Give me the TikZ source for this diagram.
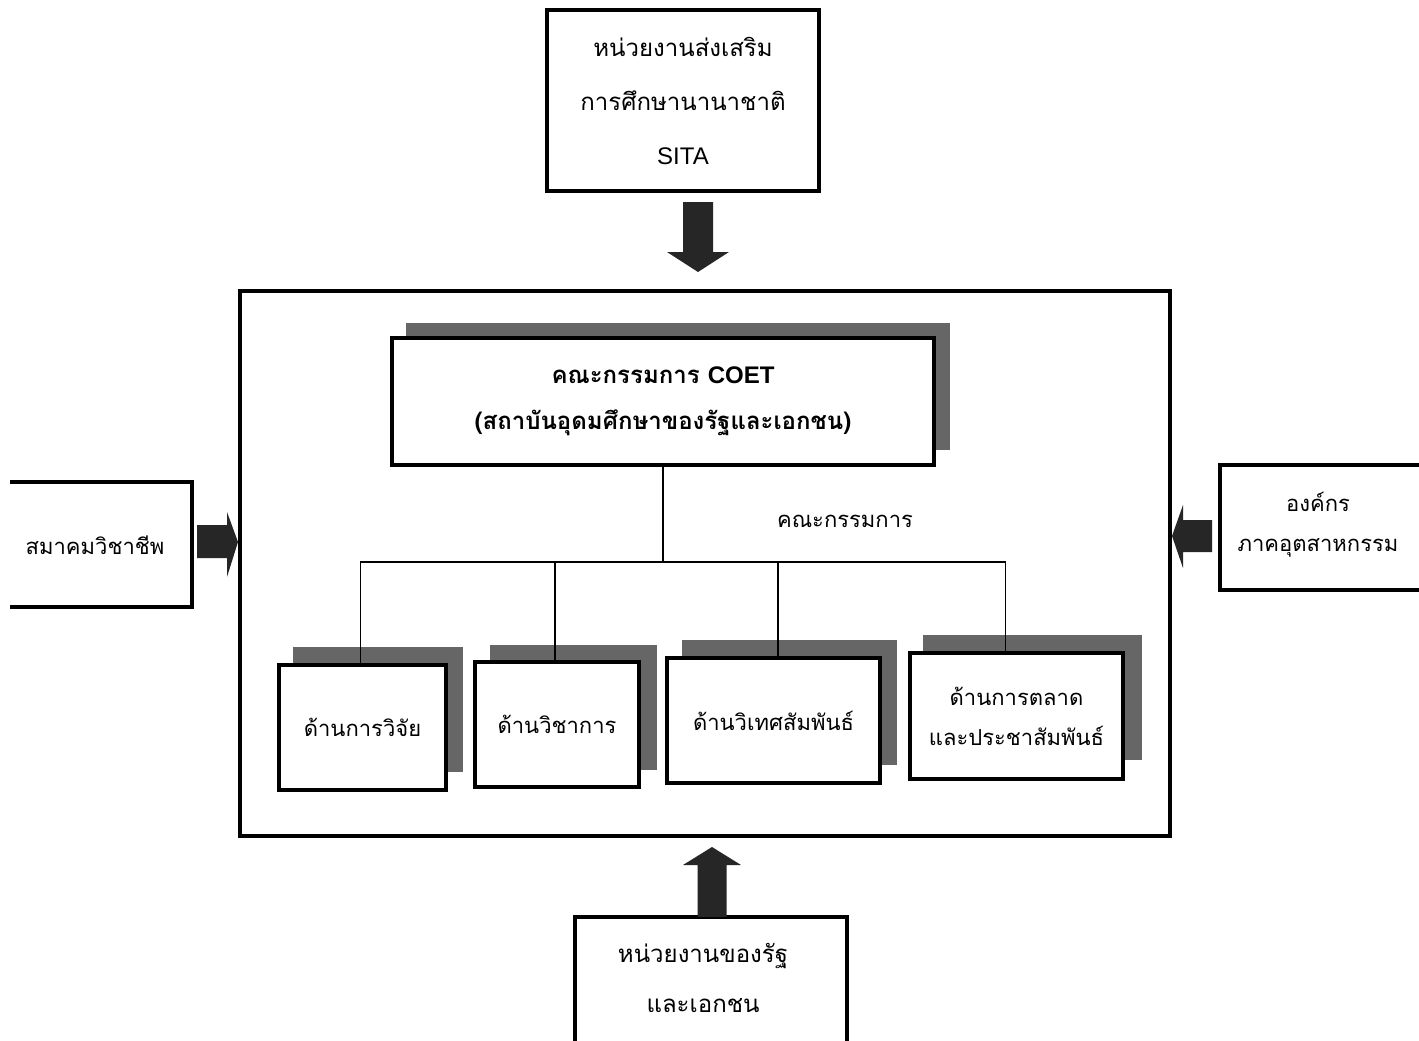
\documentclass[tikz,border=0pt]{standalone}
\usepackage{fontspec}
\setmainfont{Liberation Sans}
\newfontfamily\thaifont[Script=Thai]{Loma}
\usetikzlibrary{calc}
\tikzset{
  box/.style={draw, line width=3.4pt, fill=white, align=center, inner sep=0pt},
  shadowfill/.style={fill=black!60, draw=none},
  link/.style={line width=1.8pt},
  openbox/.style={line width=3.4pt},
  blockarrow/.style={fill=black!85, draw=none},
  txt/.style={align=center, inner sep=0pt},
  big/.style={font=\thaifont\fontsize{24}{54}\selectfont},
  mid/.style={font=\thaifont\fontsize{22}{40}\selectfont},
  coetf/.style={font=\thaifont\bfseries\fontsize{24}{46}\selectfont},
}
\begin{document}
\begin{tikzpicture}[x=1pt,y=-1pt]
\useasboundingbox (0,0) rectangle (1419,1041);
\fill[white] (0,0) rectangle (1419,1041);

% top box
\node[box, big, minimum width=272pt, minimum height=181pt] (sita) at (683,100.5)
  {หน่วยงานส่งเสริม\\การศึกษานานาชาติ\\{\rmfamily SITA}};

% outer frame
\node[box, minimum width=930pt, minimum height=545pt] (frame) at (705,563.5) {};

% COET shadow and box
\fill[shadowfill] (406,323) rectangle (950,450);
\node[box, coetf, minimum width=542pt, minimum height=127pt] (coet) at (663,401.5)
  {คณะกรรมการ {\rmfamily COET}\\(สถาบันอุดมศึกษาของรัฐและเอกชน)};

% sub shadows
\fill[shadowfill] (293,647) rectangle (463,772);
\fill[shadowfill] (490,645) rectangle (657,770);
\fill[shadowfill] (682,640) rectangle (897,765);
\fill[shadowfill] (923,635) rectangle (1142,760);

% sub boxes
\node[box, mid, minimum width=167pt, minimum height=125pt] (b1) at (362.5,727.5) {ด้านการวิจัย};
\node[box, mid, minimum width=164pt, minimum height=125pt] (b2) at (557,724.5) {ด้านวิชาการ};
\node[box, mid, minimum width=213pt, minimum height=125pt] (b3) at (773.5,720.5) {ด้านวิเทศสัมพันธ์};
\node[box, mid, minimum width=213pt, minimum height=126pt] (b4) at (1016.5,716) {ด้านการตลาด\\และประชาสัมพันธ์};

% committee tree
\coordinate (bar) at (663,562);
\node[txt, mid] (lbl) at (845,521) {คณะกรรมการ};
\draw[link] (coet.south) -- (bar);
\draw[link] ($(b1.north)+(-2,0)$) |- ($(b4.north |- bar)+(-11,0)$) -- ($(b4.north)+(-11,0)$);
\draw[link] ($(b2.north)+(-2,0)$) -- ($(b2.north |- bar)+(-2,0)$);
\draw[link] ($(b3.north)+(4.5,0)$) -- ($(b3.north |- bar)+(4.5,0)$);

% left box (open at page edge)
\node[txt, mid] (smk) at (95,545) {สมาคมวิชาชีพ};
\draw[openbox] (10,482) -- (192,482) -- (192,607) -- (10,607);

% right box
\node[txt, mid] (ind) at (1318,525) {องค์กร\\ภาคอุตสาหกรรม};
\draw[openbox] (1419,465) -- (1220,465) -- (1220,590) -- (1419,590);

% bottom box
\node[txt, big, font=\thaifont\fontsize{24}{50}\selectfont] (gov) at (703,978) {หน่วยงานของรัฐ\\และเอกชน};
\draw[openbox] (575,1041) -- (575,917) -- (847,917) -- (847,1041);

% block arrows
\coordinate (dA) at (698,202);
\fill[blockarrow] ($(dA)+(-15,0)$) -- ($(dA)+(15,0)$) -- ($(dA)+(15,50)$) -- ($(dA)+(31,50)$)
  -- ($(dA)+(0,70)$) -- ($(dA)+(-31,50)$) -- ($(dA)+(-15,50)$) -- cycle;
\coordinate (uA) at (712,917);
\fill[blockarrow] ($(uA)+(-14.5,0)$) -- ($(uA)+(14.5,0)$) -- ($(uA)+(14.5,-52)$) -- ($(uA)+(29,-52)$)
  -- ($(uA)+(0,-70)$) -- ($(uA)+(-29,-52)$) -- ($(uA)+(-14.5,-52)$) -- cycle;
\coordinate (rA) at (197,542);
\fill[blockarrow] ($(rA)+(0,-17)$) -- ($(rA)+(30,-17)$) -- ($(rA)+(30,-30)$) -- ($(rA)+(41,0)$)
  -- ($(rA)+(30,35)$) -- ($(rA)+(30,16)$) -- ($(rA)+(0,16)$) -- cycle;
\coordinate (lA) at (1212,536);
\fill[blockarrow] ($(lA)+(0,-16)$) -- ($(lA)+(-29,-16)$) -- ($(lA)+(-29,-31)$) -- ($(lA)+(-40,0)$)
  -- ($(lA)+(-29,32)$) -- ($(lA)+(-29,16)$) -- ($(lA)+(0,16)$) -- cycle;
\end{tikzpicture}
\end{document}
